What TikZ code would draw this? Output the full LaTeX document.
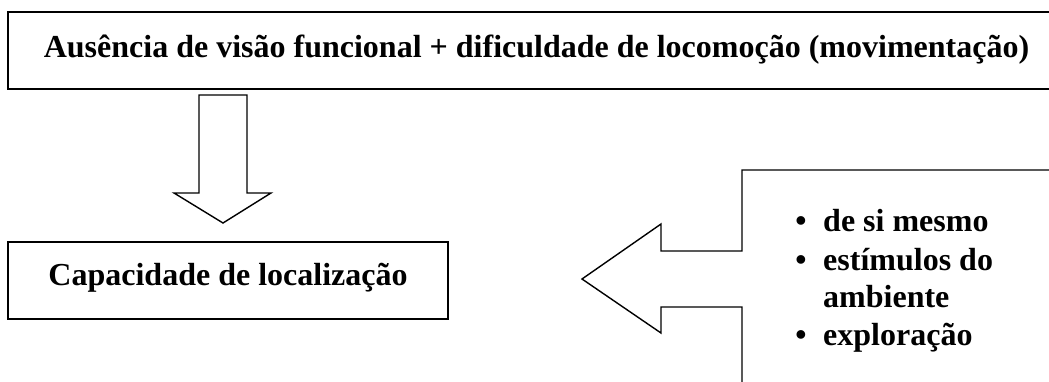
\documentclass[tikz,border=0pt]{standalone}
\usepackage{fontspec}
\setmainfont{Liberation Serif}
\begin{document}
\begin{tikzpicture}[x=1pt,y=-1pt,
  boxline/.style={draw=black, line width=1.8pt, line join=miter},
  arrowline/.style={draw=black, line width=1.4pt, line join=miter},
  lbl/.style={font=\fontsize{32}{38}\selectfont\bfseries, inner sep=0pt, anchor=base},
  itemtext/.style={lbl, anchor=base west}]
\useasboundingbox (0,0) rectangle (1049,382);
\clip (0,0) rectangle (1049,382);
% top box (open to the right)
\path[boxline] (1070,12) -- (8,12) -- (8,89) -- (1070,89);
\node[lbl] (top) at (536.5,58) {Ausência de visão funcional + dificuldade de locomoção (movimentação)};
% down block arrow
\path[arrowline] (199,95) -- (247,95) -- (247,193) -- (271,193) -- (223,223) coordinate (downtip)
  -- (174,193) -- (199,193) -- cycle;
% capacidade box
\path[boxline] (8,242) rectangle (448,319);
\node[lbl] (cap) at (228,285) {Capacidade de localização};
% left block arrow joined with the open right box
\path[arrowline] (1070,170) -- (742,170) -- (742,251) -- (661,251) -- (661,224)
  -- (582,279) coordinate (lefttip) -- (661,333) -- (661,307) -- (742,307) -- (742,400);
% list
\node[lbl] (b1) at (801,232) {•};
\node[itemtext] (t1) at (823,232) {de si mesmo};
\node[lbl] (b2) at (801,270) {•};
\node[itemtext] (t2) at (823,270) {estímulos do};
\node[itemtext] (t3) at (823,307) {ambiente};
\node[lbl] (b4) at (801,345) {•};
\node[itemtext] (t4) at (823,345) {exploração};
\end{tikzpicture}
\end{document}
